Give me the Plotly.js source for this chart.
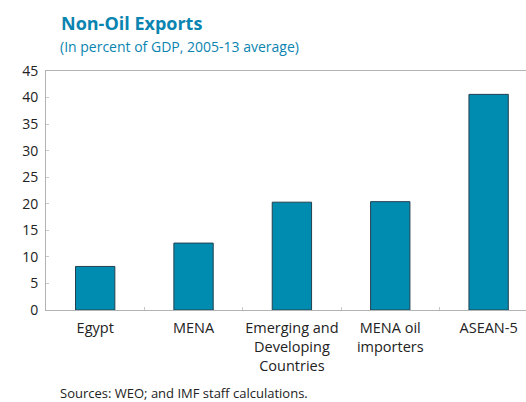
<!DOCTYPE html>
<html>
<head>
<meta charset="utf-8">
<script src="https://cdn.plot.ly/plotly-3.0.1.min.js"></script>
<style>html,body{margin:0;padding:0;background:#fff;}#chart{width:526px;height:402px;}</style>
</head>
<body>
<div id="chart"></div>
<script>
const categories = ["Egypt", "MENA", "Emerging and<br>Developing<br>Countries", "MENA oil<br>importers", "ASEAN-5"];
const nonOilExports = [8.2, 12.6, 20.3, 20.4, 40.6];
const yTicks = [0, 5, 10, 15, 20, 25, 30, 35, 40, 45];

const FONT = "Open Sans, Noto Sans, sans-serif";
const BLUE = "#0a84b0";

const trace = {
  type: "bar",
  x: categories,
  y: nonOilExports,
  width: 0.4,
  marker: {color: "#008bb0", line: {color: "#24414f", width: 1}},
  hoverinfo: "skip"
};

const layout = {
  width: 526, height: 402,
  margin: {l: 46, r: 0, t: 71, b: 92},
  paper_bgcolor: "#fff", plot_bgcolor: "#fff",
  showlegend: false,
  font: {family: FONT, size: 14, color: "#222"},
  xaxis: {
    type: "category",
    range: [-0.5, 4.38],
    showline: true, linecolor: "#b3b3b3", linewidth: 1, mirror: true,
    ticks: "inside", tickson: "boundaries", ticklen: 3, tickcolor: "#c8c8c8",
    showgrid: false, zeroline: false,
    tickangle: 0, automargin: false,
    ticklabelstandoff: 5,
    tickfont: {family: FONT, size: 14.5, color: "#222"},
    fixedrange: true
  },
  yaxis: {
    range: [0, 45],
    tickvals: yTicks,
    ticktext: yTicks.map(String),
    showline: true, linecolor: "#b3b3b3", linewidth: 1,
    ticks: "inside", ticklen: 3, tickcolor: "#c8c8c8",
    showgrid: false, zeroline: false,
    ticklabelstandoff: 4,
    tickfont: {family: FONT, size: 14, color: "#222"},
    fixedrange: true
  },
  title: {
    text: "<b>Non-Oil Exports</b>",
    font: {family: FONT, size: 18, color: BLUE},
    xref: "container", yref: "container",
    x: 61/526, xanchor: "left",
    y: 1 - 24/402, yanchor: "middle"
  },
  annotations: [
    {
      text: "(In percent of GDP, 2005-13 average)",
      xref: "paper", yref: "paper", x: (58-46)/480, xanchor: "left",
      y: 1 + (71-47)/239, yanchor: "middle", showarrow: false,
      font: {family: FONT, size: 14, color: BLUE}
    },
    {
      text: "Sources: WEO; and IMF staff calculations.",
      xref: "paper", yref: "paper", x: (58-46)/480, xanchor: "left",
      y: -(393-310)/239, yanchor: "middle", showarrow: false,
      font: {family: FONT, size: 13, color: "#222"}
    }
  ]
};

Plotly.newPlot("chart", [trace], layout, {displayModeBar: false, staticPlot: true});
</script>
</body>
</html>
